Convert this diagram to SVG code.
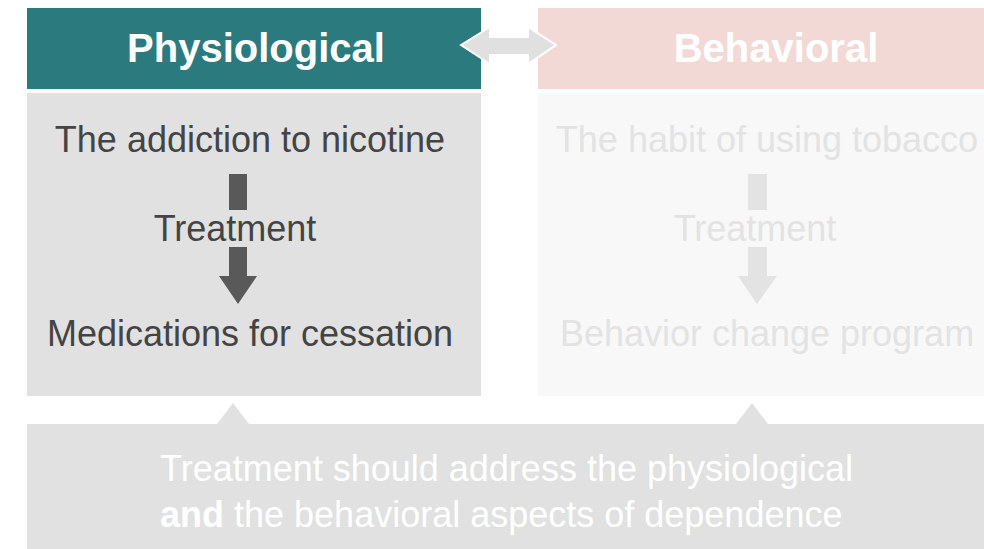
<svg xmlns="http://www.w3.org/2000/svg" width="984" height="549" viewBox="0 0 984 549">
<style>
text{font-family:"Liberation Sans",Arial,sans-serif}
.hdr{font-size:40px;font-weight:bold;fill:#ffffff;text-anchor:middle}
.body{font-size:36px;text-anchor:middle}
.dark{fill:#444444}
.light{fill:#e3e3e3}
.foot{font-size:36px;fill:#ffffff}
</style>
<rect width="984" height="549" fill="#ffffff"/>
<g id="physiological">
<rect x="27" y="8" width="454" height="81" fill="#2b7a7e"/>
<text class="hdr" x="256" y="62">Physiological</text>
</g>
<g id="behavioral">
<rect x="538" y="8" width="446" height="81" fill="#f3d9d6"/>
<text class="hdr" x="776" y="62">Behavioral</text>
</g>
<g id="physiological-body">
<rect x="27" y="93" width="454" height="303" fill="#e1e1e1"/>
<text class="body dark" x="250" y="152">The addiction to nicotine</text>
<rect x="229" y="174" width="18" height="36" fill="#595959"/>
<text class="body dark" x="235" y="241">Treatment</text>
<polygon points="229,247 247,247 247,276 257,276 238,304 219,276 229,276" fill="#595959"/>
<text class="body dark" x="250" y="346">Medications for cessation</text>
</g>
<g id="behavioral-body">
<rect x="538" y="93" width="446" height="303" fill="#f8f8f8"/>
<text class="body light" x="767" y="152">The habit of using tobacco</text>
<rect x="748" y="174" width="19" height="36" fill="#e3e3e3"/>
<text class="body light" x="755" y="241">Treatment</text>
<polygon points="748,247 767,247 767,276 777,276 757,304 738,276 748,276" fill="#e3e3e3"/>
<text class="body light" x="767" y="346">Behavior change program</text>
</g>
<g id="summary">
<path d="M27,424 H217 L233,403 L249,424 H736 L752,403 L768,424 H984 V549 H27 Z" fill="#e1e1e1"/>
<text class="foot" x="160" y="481">Treatment should address the physiological</text>
<text class="foot" x="160" y="527"><tspan font-weight="bold">and</tspan> the behavioral aspects of dependence</text>
</g>
<g id="connectors">
<polygon points="461,45 490,27 490,37 528,37 528,27 556,45 528,64 528,55 490,55 490,64" fill="#e0e0e0" stroke="#ffffff" stroke-width="2" stroke-linejoin="miter"/>
</g>
</svg>
